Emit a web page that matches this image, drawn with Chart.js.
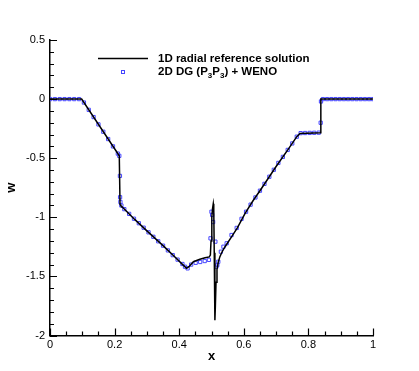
<!DOCTYPE html>
<html>
<head>
<meta charset="utf-8">
<script src="https://cdn.jsdelivr.net/npm/chart.js@4.4.1/dist/chart.umd.min.js"></script>
<style>
  html, body { margin: 0; padding: 0; background: #fff; }
  #wrap { width: 419px; height: 371px; }
</style>
</head>
<body>
<div id="wrap"><canvas id="chart" width="419" height="371"></canvas></div>
<script>
// 1D radial reference solution (black line)
const refX = [0, 0.098, 0.2145, 0.2168, 0.219, 0.226, 0.263, 0.300, 0.350, 0.390, 0.410, 0.423,
    0.430, 0.444, 0.464, 0.480, 0.493, 0.4965, 0.4985, 0.501, 0.503, 0.5055, 0.507, 0.5085,
    0.5105, 0.512, 0.514, 0.517, 0.521, 0.526, 0.534, 0.542, 0.5625, 0.580, 0.604, 0.629,
    0.650, 0.700, 0.740, 0.764, 0.774, 0.837, 0.8385, 1.000];
const refW = [0, 0, -0.480, -0.890, -0.900, -0.920, -1.020, -1.115, -1.240, -1.345, -1.398, -1.432,
    -1.418, -1.376, -1.355, -1.343, -1.335, -1.320, -1.200, -1.000, -0.930, -0.885, -0.930, -1.300,
    -1.870, -1.750, -1.550, -1.440, -1.380, -1.333, -1.285, -1.249, -1.164, -1.090, -0.966, -0.858,
    -0.775, -0.570, -0.415, -0.318, -0.290, -0.284, 0, 0];

// 2D DG (P3P3) + WENO (blue squares)
const dgX = [0.000, 0.015, 0.030, 0.045, 0.060, 0.075, 0.090, 0.105, 0.120, 0.135, 0.150, 0.165,
    0.180, 0.195, 0.210, 0.2145, 0.2165, 0.2170, 0.2180, 0.2210, 0.230, 0.245, 0.260, 0.275,
    0.290, 0.305, 0.320, 0.335, 0.350, 0.365, 0.380, 0.395, 0.410, 0.418, 0.426, 0.437, 0.451,
    0.465, 0.479, 0.492, 0.497, 0.500, 0.502, 0.505, 0.512, 0.515, 0.518, 0.521, 0.529, 0.537,
    0.547, 0.562, 0.578, 0.593, 0.607, 0.621, 0.636, 0.650, 0.664, 0.679, 0.693, 0.707, 0.721,
    0.736, 0.750, 0.764, 0.776, 0.790, 0.804, 0.818, 0.832, 0.838, 0.839, 0.845, 0.858, 0.871,
    0.884, 0.897, 0.910, 0.923, 0.936, 0.949, 0.962, 0.975, 0.988, 1.000];
const dgW = [0, 0, 0, 0, 0, 0, 0, -0.029, -0.091, -0.152, -0.214, -0.276,
    -0.338, -0.400, -0.461, -0.480, -0.650, -0.830, -0.870, -0.900, -0.931, -0.971, -1.012, -1.050,
    -1.088, -1.127, -1.165, -1.203, -1.240, -1.280, -1.320, -1.358, -1.395, -1.418, -1.432, -1.400, -1.385,
    -1.378, -1.370, -1.360, -1.178, -0.953, -0.980, -1.040, -1.206, -1.418, -1.404, -1.376, -1.291, -1.249,
    -1.220, -1.150, -1.090, -1.013, -0.953, -0.893, -0.832, -0.775, -0.717, -0.657, -0.598, -0.540, -0.489,
    -0.430, -0.375, -0.318, -0.288, -0.287, -0.286, -0.285, -0.284, -0.200, -0.020, 0, 0, 0,
    0, 0, 0, 0, 0, 0, 0, 0, 0, 0];

const xTicks = [0, 0.2, 0.4, 0.6, 0.8, 1];
const yTicks = [-2, -1.5, -1, -0.5, 0, 0.5];

const refLabel = '1D radial reference solution';
const dgLabel = ['2D DG (P', '3', 'P', '3', ') + WENO'];

const FONT = 'Arial, "Liberation Sans", Helvetica, sans-serif';
const DG_COLOR = '#4646ff';

// inward major/minor tick marks like the original plot
const innerTicks = {
    id: 'innerTicks',
    afterDraw(chart) {
        const { ctx, chartArea, scales } = chart;
        ctx.save();
        ctx.strokeStyle = '#000';
        ctx.lineWidth = 1.2;
        ctx.beginPath();
        for (let i = 0; i <= 20; i += 1) {
            const px = Math.round(scales.x.getPixelForValue(i * 0.05)) + 0.5;
            const len = i % 4 === 0 ? 7 : 4;
            ctx.moveTo(px, chartArea.bottom);
            ctx.lineTo(px, chartArea.bottom - len);
        }
        for (let i = 0; i <= 25; i += 1) {
            const py = Math.round(scales.y.getPixelForValue(-2 + i * 0.1)) + 0.5;
            const len = i % 5 === 0 ? 7 : 4;
            ctx.moveTo(chartArea.left, py);
            ctx.lineTo(chartArea.left + len, py);
        }
        ctx.stroke();
        ctx.restore();
    },
};

// legend placed inside the plot, with subscripts
const insideLegend = {
    id: 'insideLegend',
    afterDraw(chart) {
        const { ctx } = chart;
        ctx.save();
        ctx.strokeStyle = '#000';
        ctx.lineWidth = 1.5;
        ctx.beginPath();
        ctx.moveTo(98, 58.5);
        ctx.lineTo(148, 58.5);
        ctx.stroke();

        ctx.strokeStyle = DG_COLOR;
        ctx.lineWidth = 1;
        ctx.strokeRect(121.5, 70.5, 3, 3);

        ctx.fillStyle = '#000';
        ctx.textBaseline = 'middle';
        ctx.textAlign = 'left';
        ctx.font = `bold 11.5px ${FONT}`;
        ctx.fillText(refLabel, 158, 58.5);

        let x = 158;
        dgLabel.forEach((part, i) => {
            const sub = i === 1 || i === 3;
            ctx.font = sub ? `bold 8px ${FONT}` : `bold 11.5px ${FONT}`;
            ctx.fillText(part, x, sub ? 75.5 : 72);
            x += ctx.measureText(part).width;
        });
        ctx.restore();
    },
};

const ctx = document.getElementById('chart').getContext('2d');
new Chart(ctx, {
    type: 'scatter',
    data: {
        datasets: [{
            label: refLabel,
            data: refX.map((x, i) => ({ x, y: refW[i] })),
            showLine: true,
            borderColor: '#000',
            borderWidth: 1.5,
            pointRadius: 0,
            tension: 0,
            order: 0,
        }, {
            label: dgLabel.join(''),
            data: dgX.map((x, i) => ({ x, y: dgW[i] })),
            showLine: false,
            pointStyle: 'rect',
            pointRadius: 2.3,
            pointBorderWidth: 1,
            pointBorderColor: DG_COLOR,
            pointBackgroundColor: 'rgba(255,255,255,0)',
            order: 1,
        }],
    },
    options: {
        responsive: false,
        animation: false,
        devicePixelRatio: 1,
        layout: { padding: { left: 0, right: 46, top: 40, bottom: 0 } },
        plugins: {
            legend: { display: false },
            tooltip: { enabled: false },
        },
        scales: {
            x: {
                type: 'linear',
                min: 0,
                max: 1,
                afterFit: (scale) => { scale.height = 35.5; },
                afterBuildTicks: (scale) => { scale.ticks = xTicks.map((v) => ({ value: v })); },
                ticks: {
                    color: '#000',
                    font: { family: FONT, size: 11 },
                    padding: 3,
                    maxRotation: 0,
                    autoSkip: false,
                    callback: (v) => String(v),
                },
                grid: { display: false, drawTicks: false },
                border: { display: true, color: '#000', width: 1.5 },
                title: {
                    display: true,
                    text: 'x',
                    color: '#000',
                    font: { family: FONT, size: 13, weight: 'bold' },
                    padding: { top: 0, bottom: 6.5 },
                },
            },
            y: {
                type: 'linear',
                min: -2,
                max: 0.5,
                afterFit: (scale) => { scale.width = 50; },
                afterBuildTicks: (scale) => { scale.ticks = yTicks.map((v) => ({ value: v })); },
                ticks: {
                    color: '#000',
                    font: { family: FONT, size: 11 },
                    padding: 5,
                    autoSkip: false,
                    callback: (v) => String(v),
                },
                grid: { display: false, drawTicks: false },
                border: { display: true, color: '#000', width: 1.5 },
                title: {
                    display: true,
                    text: 'w',
                    color: '#000',
                    font: { family: FONT, size: 13, weight: 'bold' },
                    padding: { top: 4, bottom: 0 },
                },
            },
        },
    },
    plugins: [innerTicks, insideLegend],
});
</script>
</body>
</html>
